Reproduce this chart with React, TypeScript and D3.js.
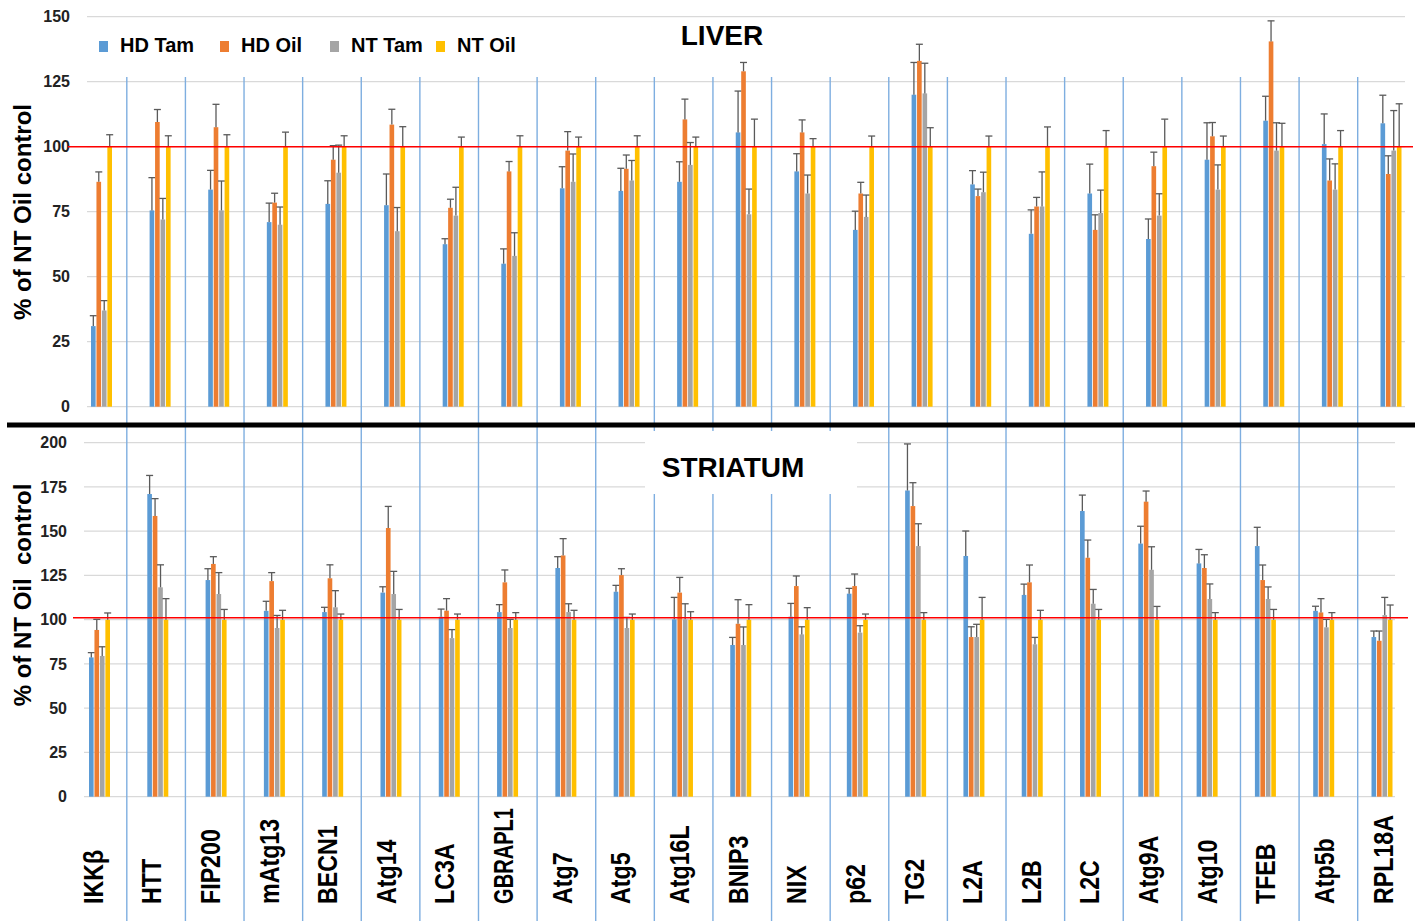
import { useEffect, useRef } from 'react';
import * as d3 from 'd3';

const categories = ['IKKβ', 'HTT', 'FIP200', 'mAtg13', 'BECN1', 'Atg14', 'LC3A', 'GBRAPL1', 'Atg7', 'Atg5', 'Atg16L', 'BNIP3', 'NIX', 'p62', 'TG2', 'L2A', 'L2B', 'L2C', 'Atg9A', 'Atg10', 'TFEB', 'Atp5b', 'RPL18A'];
const series = ['HD Tam', 'HD Oil', 'NT Tam', 'NT Oil'];
const seriesColors = ['#5B9BD5', '#ED7D31', '#A5A5A5', '#FFC000'];

const liverTicks = [0, 25, 50, 75, 100, 125, 150];
const striatumTicks = [0, 25, 50, 75, 100, 125, 150, 175, 200];

// LIVER (% of NT Oil control) and error (upper SEM)
const liverHdTam = [31, 75.5, 83.5, 71, 78, 77.5, 62.5, 55, 84, 83, 86.5, 105.5, 90.5, 68, 120, 85.5, 66.5, 82, 64.5, 95, 110, 101, 109];
const liverHdTamErr = [4, 12.6, 7.4, 7.3, 8.9, 12, 2.1, 5.7, 8.3, 8.7, 7.7, 15.9, 6.8, 7.2, 12.4, 5.3, 9.2, 11.3, 7.7, 14.2, 9.4, 11.6, 10.8];
const liverHdOil = [86.5, 109.5, 107.5, 78.5, 95, 108.5, 76.5, 90.5, 98.5, 91.5, 110.5, 129, 105.5, 82, 133, 81, 77, 68, 92.5, 104, 140.5, 87, 89.5];
const liverHdOilErr = [3.8, 4.8, 8.8, 3.6, 5.4, 5.9, 3.3, 3.8, 7.3, 5.3, 7.8, 3.4, 4.8, 4.3, 6.4, 2.7, 3.5, 5.8, 5.4, 5.3, 7.9, 8.3, 7];
const liverNtTam = [37, 72, 75.5, 70, 90, 67.5, 73.5, 58, 86.5, 87, 93, 74, 82, 73, 120.5, 82.5, 77, 74.5, 73.5, 83.5, 98.5, 83.5, 98.5];
const liverNtTamErr = [3.8, 8.1, 11.3, 6.8, 10.6, 9.1, 10.9, 8.9, 10.7, 7.7, 8.6, 9.7, 7.1, 8.4, 11.6, 7.7, 13.3, 8.8, 8.4, 9.5, 10.7, 9.9, 15.4];
const liverNtOil = [100, 100, 100, 100, 100, 100, 100, 100, 100, 100, 100, 100, 100, 100, 100, 100, 100, 100, 100, 100, 100, 100, 100];
const liverNtOilErr = [4.6, 4.2, 4.6, 5.6, 4.2, 7.7, 3.7, 4.2, 3.7, 4.2, 3.7, 10.6, 3.1, 4.1, 7.3, 4.1, 7.6, 6.2, 10.6, 4.1, 9, 6.2, 16.5];

// STRIATUM
const strHdTam = [78.7, 171, 122.4, 105, 104.3, 115.3, 101.7, 104.3, 129.2, 115.8, 100.2, 85.7, 101.7, 114.7, 173, 136, 114, 161.4, 143, 131.8, 141.6, 105, 90.2];
const strHdTamErr = [2.7, 10.5, 6.4, 5.4, 2.7, 3.3, 4.3, 4.2, 6.4, 3.6, 12.4, 4.3, 7.5, 3, 26.3, 14.1, 6.1, 9, 9.8, 7.9, 10.6, 2.6, 3.4];
const strHdOil = [94.2, 158.6, 131.5, 121.8, 123.4, 151.8, 105.1, 121.1, 136.3, 125.2, 115.3, 97.7, 119, 119, 164.2, 90.2, 121.1, 135, 166.7, 129.2, 122.4, 104.1, 88.1];
const strHdOilErr = [6, 9.8, 4.1, 4.8, 7.6, 12.2, 6.8, 7, 9.5, 3.6, 8.6, 13.6, 5.7, 6.8, 13.2, 5.8, 9.8, 10, 6, 7.5, 8.5, 7.8, 5.5];
const strNtTam = [79.5, 118.3, 114.5, 95.3, 107, 114.5, 89.6, 95.3, 104.3, 95.3, 100.2, 85.7, 91.7, 92.7, 141.6, 90.2, 86.1, 109, 128.2, 111.7, 111.7, 95.7, 102.6];
const strNtTamErr = [5.2, 12.7, 12.1, 7.1, 9.4, 12.8, 4.8, 4.9, 4.7, 6, 8.8, 10.2, 4.3, 3.9, 12.6, 7.2, 3.9, 8.1, 13, 8.5, 6.8, 4.5, 10];
const strNtOil = [100, 100, 100, 100, 100, 100, 100, 100, 100, 100, 100, 100, 100, 100, 100, 100, 100, 100, 100, 100, 100, 100, 100];
const strNtOilErr = [3.8, 11.9, 5.8, 5.3, 3.2, 5.8, 3.2, 4, 5.3, 3.2, 4.5, 8.5, 6.8, 3.2, 4, 12.6, 5.3, 5.8, 7.5, 4, 5.8, 4, 8.3];

const FONT = '"Liberation Sans", Arial, sans-serif';

type Panel = {
  x: d3.ScalePoint<string>;
  y: d3.ScaleLinear<number, number>;
  ticks: number[];
  values: number[][];
  errors: number[][];
  gridX: [number, number];
  tickX: number;
  redX: [number, number];
  redShift: number;
};

const App = () => {
  const svgRef = useRef<SVGSVGElement | null>(null);

  useEffect(() => {
    const W = 1422;
    const H = 921;
    const svg = d3.select(svgRef.current);
    svg.selectAll('*').remove();

    svg.append('rect').attr('width', W).attr('height', H).attr('fill', '#ffffff');

    // scales
    const xLiver = d3.scalePoint<string>().domain(categories).range([101.5, 1391]);
    const xStr = d3.scalePoint<string>().domain(categories).range([99.5, 1382]);
    const xLabel = d3.scalePoint<string>().domain(categories).range([93, 1383]);
    const inner = d3.scaleBand<string>().domain(series).range([-10.5, 10.5]).paddingInner(0.15);

    const yLiver = d3.scaleLinear().domain([0, 150]).range([406.7, 16.7]);
    const yStr = d3.scaleLinear().domain([0, 200]).range([796.7, 442.7]);

    const liver: Panel = {
      x: xLiver, y: yLiver, ticks: liverTicks,
      values: [liverHdTam, liverHdOil, liverNtTam, liverNtOil],
      errors: [liverHdTamErr, liverHdOilErr, liverNtTamErr, liverNtOilErr],
      gridX: [87, 1405], tickX: 70, redX: [68, 1413], redShift: 0,
    };
    const striatum: Panel = {
      x: xStr, y: yStr, ticks: striatumTicks,
      values: [strHdTam, strHdOil, strNtTam, strNtOil],
      errors: [strHdTamErr, strHdOilErr, strNtTamErr, strNtOilErr],
      gridX: [84, 1395], tickX: 67, redX: [73, 1408], redShift: -2,
    };

    // gridlines and tick labels
    [liver, striatum].forEach(p => {
      svg.append('g')
        .selectAll('line')
        .data(p.ticks)
        .enter()
        .append('line')
        .attr('x1', p.gridX[0])
        .attr('x2', p.gridX[1])
        .attr('y1', d => p.y(d))
        .attr('y2', d => p.y(d))
        .attr('stroke', '#d9d9d9')
        .attr('stroke-width', 1.3);

      svg.append('g')
        .selectAll('text')
        .data(p.ticks)
        .enter()
        .append('text')
        .attr('x', p.tickX)
        .attr('y', d => p.y(d))
        .attr('dy', '0.36em')
        .attr('text-anchor', 'end')
        .attr('font-family', FONT)
        .attr('font-weight', 'bold')
        .attr('font-size', 16)
        .attr('fill', '#222')
        .text(d => d);
    });

    // category separators (run through both panels and the label strip)
    const sepData = categories.slice(0, -1).map((c, i) => ((xLiver(c) as number) + (xLiver(categories[i + 1]) as number)) / 2 - 4);
    svg.append('g')
      .selectAll('line')
      .data(sepData)
      .enter()
      .append('line')
      .attr('x1', d => d)
      .attr('x2', d => d)
      .attr('y1', 77)
      .attr('y2', H)
      .attr('stroke', '#7eaee0')
      .attr('stroke-width', 1.4);

    // bars, error bars, red reference line
    [liver, striatum].forEach(p => {
      const y0 = p.y(0);
      series.forEach((s, si) => {
        const g = svg.append('g');
        const off = inner(s) as number;
        const bw = inner.bandwidth();
        g.selectAll('rect')
          .data(categories)
          .enter()
          .append('rect')
          .attr('x', c => (p.x(c) as number) + off)
          .attr('y', (c, i) => p.y(p.values[si][i]))
          .attr('width', bw)
          .attr('height', (c, i) => y0 - p.y(p.values[si][i]))
          .attr('fill', seriesColors[si]);

        const err = g.append('g').attr('stroke', '#5a5a5a').attr('stroke-width', 1.3);
        categories.forEach((c, i) => {
          const cx = (p.x(c) as number) + off + bw / 2;
          const top = p.y(p.values[si][i] + p.errors[si][i]);
          err.append('line')
            .attr('x1', cx).attr('x2', cx)
            .attr('y1', p.y(p.values[si][i])).attr('y2', top);
          err.append('line')
            .attr('x1', cx - 3.5).attr('x2', cx + 3.5)
            .attr('y1', top).attr('y2', top);
        });
      });

      svg.append('line')
        .attr('x1', p.redX[0])
        .attr('x2', p.redX[1])
        .attr('y1', p.y(100) + p.redShift)
        .attr('y2', p.y(100) + p.redShift)
        .attr('stroke', '#ff0000')
        .attr('stroke-width', 1.5);
    });

    // thick divider between panels
    svg.append('line')
      .attr('x1', 7).attr('x2', 1415)
      .attr('y1', 425).attr('y2', 425)
      .attr('stroke', '#000')
      .attr('stroke-width', 5);

    // titles
    svg.append('text')
      .attr('x', 722)
      .attr('y', 45)
      .attr('text-anchor', 'middle')
      .attr('font-family', FONT)
      .attr('font-weight', 'bold')
      .attr('font-size', 28)
      .attr('fill', '#000')
      .text('LIVER');

    svg.append('rect')
      .attr('x', 645).attr('y', 431)
      .attr('width', 212).attr('height', 63)
      .attr('fill', '#fff');
    svg.append('text')
      .attr('x', 733)
      .attr('y', 477)
      .attr('text-anchor', 'middle')
      .attr('font-family', FONT)
      .attr('font-weight', 'bold')
      .attr('font-size', 28)
      .attr('fill', '#000')
      .text('STRIATUM');

    // legend
    const legendX = [99, 220, 330, 436];
    const legend = svg.append('g');
    series.forEach((s, i) => {
      legend.append('rect')
        .attr('x', legendX[i]).attr('y', 41)
        .attr('width', 9).attr('height', 11)
        .attr('fill', seriesColors[i]);
      legend.append('text')
        .attr('x', legendX[i] + 21)
        .attr('y', 52)
        .attr('font-family', FONT)
        .attr('font-weight', 'bold')
        .attr('font-size', 20)
        .attr('fill', '#000')
        .text(s);
    });

    // y axis titles
    [[212, '% of NT Oil control'], [595, '% of NT Oil  control']].forEach(([cy, t]) => {
      svg.append('text')
        .attr('transform', `translate(22,${cy}) rotate(-90)`)
        .attr('text-anchor', 'middle')
        .attr('dominant-baseline', 'central')
        .attr('font-family', FONT)
        .attr('font-weight', 'bold')
        .attr('font-size', 24)
        .attr('fill', '#000')
        .style('white-space', 'pre')
        .text(t as string);
    });

    // category labels (condensed, long ones capped so they stay under the bars)
    const maxLabel = 96;
    svg.append('g')
      .selectAll('text')
      .data(categories)
      .enter()
      .append('text')
      .attr('transform', c => `translate(${xLabel(c)},904) rotate(-90) scale(0.86,1)`)
      .attr('text-anchor', 'start')
      .attr('dominant-baseline', 'central')
      .attr('font-family', FONT)
      .attr('font-weight', 'bold')
      .attr('font-size', 27)
      .attr('fill', '#000')
      .text(c => c)
      .each(function () {
        const el = this as SVGTextElement;
        const len = el.getComputedTextLength() * 0.86;
        if (len > maxLabel) {
          el.setAttribute('textLength', String(maxLabel / 0.86));
          el.setAttribute('lengthAdjust', 'spacingAndGlyphs');
        }
      });
  }, []);

  return (
    <svg
      ref={svgRef}
      width={1422}
      height={921}
      style={{ position: 'absolute', left: 0, top: 0, display: 'block' }}
    />
  );
};

export default App;
